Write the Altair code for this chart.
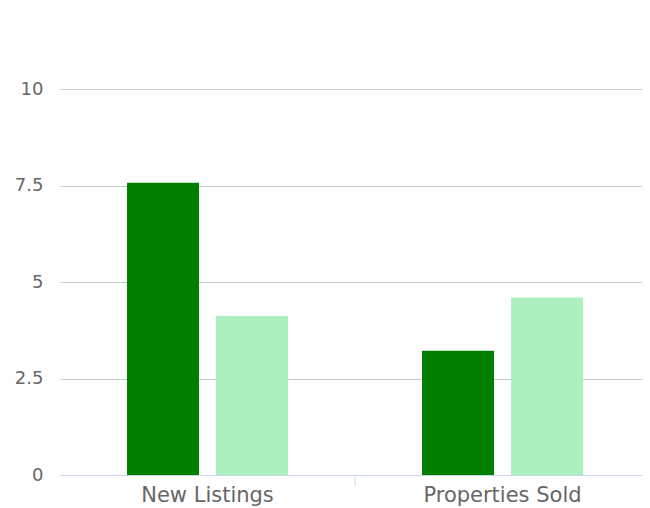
import altair as alt
import pandas as pd

categories = ["New Listings", "Properties Sold"]
series = ["Series A", "Series B"]
values_a = [7.57, 3.22]
values_b = [4.12, 4.60]
colors = ["#008000", "#adf0c0"]

rows = []
for i, c in enumerate(categories):
    rows.append({"category": c, "series": series[0], "value": values_a[i]})
    rows.append({"category": c, "series": series[1], "value": values_b[i]})
df = pd.DataFrame(rows)
tick_df = pd.DataFrame({"category": categories[1:]})

FONT = "DejaVu Sans"
H = 386
W = 582

xenc = alt.X("category:N", sort=categories, title=None,
             scale=alt.Scale(domain=categories, range=[0, 590],
                             paddingInner=0, paddingOuter=0),
             axis=alt.Axis(labelAngle=0, labelFont=FONT, labelFontSize=21,
                           labelColor="#666666", domainColor="#ccd6eb",
                           ticks=False, labelPadding=9, grid=False))

bars = alt.Chart(df).mark_bar().encode(
    x=xenc,
    xOffset=alt.XOffset("series:N", sort=series,
                        scale=alt.Scale(paddingInner=0.191, paddingOuter=0.753)),
    y=alt.Y("value:Q", title=None,
            scale=alt.Scale(domain=[0, 10], nice=False),
            axis=alt.Axis(values=[0, 2.5, 5, 7.5, 10],
                          labelExpr="toString(datum.value)",
                          labelFont=FONT,
                          labelFontSize=18, labelColor="#666666",
                          ticks=False, domain=False, labelPadding=17,
                          gridColor="#c8c8c8", gridWidth=1,
                          gridOpacity={"condition": {"test": "datum.value == 0", "value": 0}, "value": 1})),
    color=alt.Color("series:N", sort=series,
                    scale=alt.Scale(domain=series, range=colors), legend=None),
)

tick = alt.Chart(tick_df).mark_rule(color="#ccd6eb", strokeWidth=1).encode(
    x=alt.X("category:N", sort=categories, bandPosition=0),
    y=alt.value(H),
    y2=alt.value(H + 11),
)

chart = alt.layer(bars, tick).properties(
    width=W, height=H,
    autosize=alt.AutoSizeParams(type="none"),
    padding={"left": 52, "top": 81, "right": 0, "bottom": 40},
).configure_view(stroke=None)

chart.save("out.html", embed_options={"renderer": "svg", "actions": False})
